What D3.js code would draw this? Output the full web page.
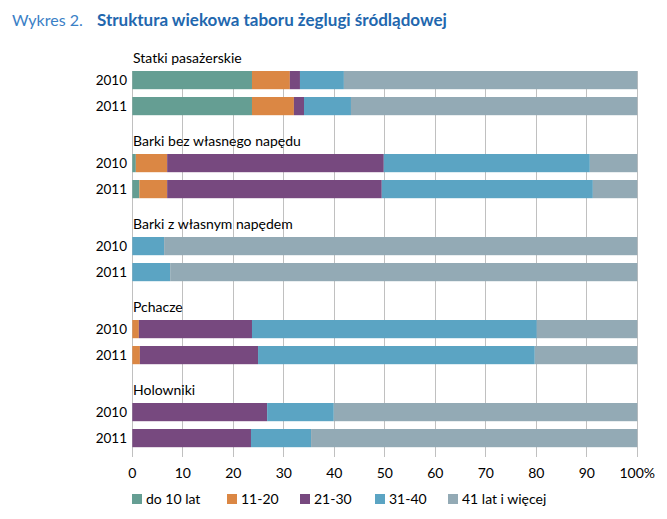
<!DOCTYPE html>
<html><head><meta charset="utf-8">
<script src="https://cdn.jsdelivr.net/npm/d3@7"></script>
<style>body{margin:0;background:#fff}svg{display:block}text{font-family:Lato,"Open Sans",sans-serif}</style>
</head><body><svg id="c" width="667" height="519"></svg>
<script>
const groups = ["Statki pasażerskie","Barki bez własnego napędu","Barki z własnym napędem","Pchacze","Holowniki"];
const years = ["2010","2011"];
const seriesNames = ["do 10 lat","11-20","21-30","31-40","41 lat i więcej"];
// values per row (group, year): shares in %
const statki2010 = [23.7, 7.5, 2.0, 8.7, 58.1];
const statki2011 = [23.7, 8.3, 2.0, 9.3, 56.7];
const barkiBez2010 = [0.7, 6.2, 42.9, 40.8, 9.4];
const barkiBez2011 = [1.4, 5.5, 42.5, 41.8, 8.8];
const barkiZ2010 = [0, 0, 0, 6.3, 93.7];
const barkiZ2011 = [0, 0, 0, 7.5, 92.5];
const pchacze2010 = [0, 1.3, 22.4, 56.4, 19.9];
const pchacze2011 = [0, 1.5, 23.4, 54.8, 20.3];
const holowniki2010 = [0, 0, 26.7, 13.2, 60.1];
const holowniki2011 = [0, 0, 23.5, 11.9, 64.6];
const xTicks = [0,10,20,30,40,50,60,70,80,90,100];
const colors = ["#659E93","#DB8744","#77497F","#5BA4C3","#93AAB5"];

const rows = [
  [groups[0], years[0], statki2010],[groups[0], years[1], statki2011],
  [groups[1], years[0], barkiBez2010],[groups[1], years[1], barkiBez2011],
  [groups[2], years[0], barkiZ2010],[groups[2], years[1], barkiZ2011],
  [groups[3], years[0], pchacze2010],[groups[3], years[1], pchacze2011],
  [groups[4], years[0], holowniki2010],[groups[4], years[1], holowniki2011]
];

const svg = d3.select("#c");
const x = d3.scaleLinear().domain([0,100]).range([132.3,637.3]);
const yG = d3.scaleBand().domain(groups).range([67.1, 67.1+415]);
const yY = d3.scaleBand().domain(years).range([0,52]).paddingInner(0.3).paddingOuter(0.15);
const plotTop = 71, plotBottom = 456.5;

// gridlines
svg.append("g").selectAll("line").data(xTicks).join("line")
  .attr("x1", d=>x(d)).attr("x2", d=>x(d)).attr("y1", plotTop).attr("y2", plotBottom)
  .attr("stroke","#C0C0C0").attr("stroke-width",1).attr("shape-rendering","crispEdges");

// bars
rows.forEach(([g, yr, vals]) => {
  let acc = 0;
  const segs = vals.map((v,i)=>{const s={x0:acc,x1:acc+v,i}; acc+=v; return s;});
  svg.append("g").selectAll("rect").data(segs.filter(s=>s.x1>s.x0)).join("rect")
    .attr("x", s=>x(s.x0)).attr("width", s=>x(Math.min(s.x1,100))-x(s.x0))
    .attr("y", yG(g)+yY(yr)).attr("height", yY.bandwidth())
    .attr("fill", s=>colors[s.i]);
  svg.append("text").attr("x",127).attr("y", yG(g)+yY(yr)+yY.bandwidth()/2)
    .attr("dy","0.36em").attr("text-anchor","end").attr("font-size",13.5).attr("fill","#000").text(yr);
});

// group labels
svg.append("g").selectAll("text").data(groups).join("text")
  .attr("x",133).attr("y", g=>yG(g)+yY(years[0])-8.5)
  .attr("font-size",14).attr("fill","#000").text(g=>g);

// x axis labels
svg.append("g").selectAll("text").data(xTicks).join("text")
  .attr("x", d=>x(d)).attr("y",473).attr("dy","0.36em").attr("text-anchor","middle")
  .attr("font-size",14).attr("fill","#000").text(d=> d===100 ? "100%" : d);

// legend
const legX = [132, 227, 300, 375, 448];
const leg = svg.append("g").selectAll("g").data(seriesNames).join("g")
  .attr("transform",(d,i)=>`translate(${legX[i]},494)`);
leg.append("rect").attr("width",10).attr("height",10).attr("fill",(d,i)=>colors[i]);
leg.append("text").attr("x",14).attr("y",5).attr("dy","0.36em").attr("font-size",14).attr("fill","#000").text(d=>d);

// title
svg.append("text").attr("x",12).attr("y",26).attr("font-size",16).attr("fill","#3A80C6").text("Wykres 2.");
svg.append("text").attr("x",97).attr("y",26).attr("font-size",17).attr("font-weight","bold").attr("fill","#2267AE").text("Struktura wiekowa taboru żeglugi śródlądowej");
</script></body></html>
